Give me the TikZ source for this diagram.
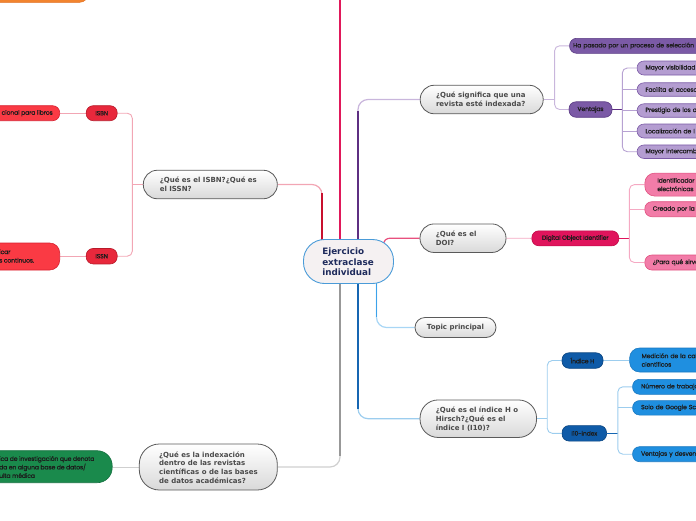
\documentclass[tikz,border=0pt]{standalone}
\usepackage{fontspec}
\newfontfamily\qf{DejaVu Sans}
\newfontfamily\pf{Poppins}[FakeBold=0.5,LetterSpace=-2]
\usetikzlibrary{calc,backgrounds}
\definecolor{qborder}{HTML}{5A5A5A}
\definecolor{qgray}{HTML}{D9D9D9}
\definecolor{qtxt}{HTML}{4A4A4A}
\definecolor{ntxt}{HTML}{1C1C1C}
\definecolor{cfill}{HTML}{F5F1F2}
\definecolor{cborder}{HTML}{4A9BD8}
\definecolor{ctxt}{HTML}{1E2B5C}
\definecolor{redD}{HTML}{C8102E}
\definecolor{redL}{HTML}{F2A6B4}
\definecolor{isbnF}{HTML}{E8283C}
\definecolor{isbnB}{HTML}{B81A2A}
\definecolor{redF}{HTML}{FA3A44}
\definecolor{redB}{HTML}{D82030}
\definecolor{crim}{HTML}{E0185A}
\definecolor{purD}{HTML}{5E2F82}
\definecolor{purL}{HTML}{C9B6DC}
\definecolor{purF}{HTML}{7B5AA6}
\definecolor{purB}{HTML}{5A3A84}
\definecolor{lavF}{HTML}{B49DD1}
\definecolor{lavB}{HTML}{7B5AA6}
\definecolor{lavL}{HTML}{B7A2D2}
\definecolor{pinkD}{HTML}{E8507E}
\definecolor{pinkL}{HTML}{F5A9C3}
\definecolor{doiF}{HTML}{E0145C}
\definecolor{doiB}{HTML}{C00A48}
\definecolor{pinkF}{HTML}{F27CA8}
\definecolor{pinkB}{HTML}{E0507F}
\definecolor{grayD}{HTML}{989898}
\definecolor{grayL}{HTML}{CFCFCF}
\definecolor{greenF}{HTML}{1A8A4C}
\definecolor{greenB}{HTML}{157040}
\definecolor{blueD}{HTML}{1666B2}
\definecolor{blueL}{HTML}{9CCDEE}
\definecolor{navyF}{HTML}{0F5BA8}
\definecolor{navyB}{HTML}{0A4480}
\definecolor{bluF}{HTML}{1F8FE0}
\definecolor{bluB}{HTML}{1A78C0}
\definecolor{skyD}{HTML}{3CA2EA}
\definecolor{skyL}{HTML}{A8D6F5}
\definecolor{orF}{HTML}{F2842E}
\definecolor{orB}{HTML}{E06A1A}
\tikzset{
  qbox/.style={draw=qborder, line width=0.8pt, top color=white, bottom color=qgray, inner sep=0pt},
  qtext/.style={font=\qf\bfseries\fontsize{7}{9}\selectfont, text=qtxt, align=left, inner sep=0pt, anchor=west},
  ctext/.style={font=\qf\bfseries\fontsize{8.8}{10.7}\selectfont, text=ctxt, align=left, inner sep=0pt, anchor=west},
  pill/.style={rounded corners=7pt, line width=0.6pt, inner sep=0pt, font=\pf\fontsize{6.1}{8.5}\selectfont, text=ntxt},
  lpill/.style={pill, anchor=west, align=left, text width=80pt},
  ptext/.style={font=\pf\fontsize{6.1}{8.5}\selectfont, text=ntxt, align=left, inner sep=0pt},
  sub/.style={rounded corners=5pt, line width=0.9pt},
  mainl/.style={rounded corners=10pt, line width=1.2pt},
  maind/.style={line width=1.7pt},
}
\begin{document}
\begin{tikzpicture}[x=1pt,y=-1pt]
\useasboundingbox (0,0) rectangle (696,520);

% central
\node[draw=cborder, fill=cfill, line width=0.9pt, rounded corners=21pt, minimum width=90pt, minimum height=44pt, inner sep=0pt] (cen) at (348.5,261.5) {};
\node[ctext] (cent) at ($(cen.west)+(19,0.5)$) {Ejercicio\\extraclase\\individual};

% top-left orange (partially visible)
\node[draw=orB, fill=orF, rounded corners=8pt, minimum width=120pt, minimum height=24pt, anchor=south east, inner sep=0pt] (orange) at (88,2.5) {};
\coordinate (upend) at (340,-10);

% question nodes
\node[qbox, rounded corners=14pt, minimum width=134pt, minimum height=28.5pt] (isbnq) at (210.3,184.5) {};
\node[qtext] (isbnqt) at ($(isbnq.west)+(16.7,0)$) {¿Qué es el ISBN?¿Qué es\\el ISSN?};

\node[qbox, rounded corners=20pt, minimum width=138pt, minimum height=46pt] (indexq) at (208.3,467) {};
\node[qtext, font=\qf\bfseries\fontsize{7}{8.7}\selectfont] (indexqt) at ($(indexq.west)+(20,0.5)$) {¿Qué es la indexación\\dentro de las revistas\\científicas o de las bases\\de datos académicas?};

\node[qbox, rounded corners=14pt, minimum width=123pt, minimum height=28.5pt] (signif) at (481.7,99.5) {};
\node[qtext] (signift) at ($(signif.west)+(16,0)$) {¿Qué significa que una\\revista esté indexada?};

\node[qbox, rounded corners=14pt, minimum width=86pt, minimum height=28.5pt] (doi) at (463,238.2) {};
\node[qtext] (doit) at ($(doi.west)+(16,0)$) {¿Qué es el\\DOI?};

\node[qbox, rounded corners=10pt, minimum width=81pt, minimum height=20pt, font=\qf\bfseries\fontsize{7}{9}\selectfont, text=qtxt] (topic) at (455.5,327.5) {Topic principal};

\node[qbox, rounded corners=18pt, minimum width=116.5pt, minimum height=37.5pt] (ihq) at (478.3,418.7) {};
\node[qtext] (ihqt) at ($(ihq.west)+(16,0)$) {¿Qué es el índice H o\\Hirsch?¿Qué es el\\índice I (I10)?};

% left red nodes
\node[pill, fill=isbnF, draw=isbnB, minimum width=31pt, minimum height=15pt] (isbn) at (101.7,113.2) {ISBN};
\node[pill, fill=isbnF, draw=isbnB, minimum width=31pt, minimum height=15.5pt] (issn) at (101.7,256.2) {ISSN};
\node[pill, fill=redF, draw=redB, minimum width=90pt, minimum height=15pt, anchor=east] (red1) at (60,113.2) {};
\node[ptext, anchor=east] (red1t) at ($(red1.east)+(-7,0)$) {cional para libros};
\node[pill, rounded corners=10pt, fill=redF, draw=redB, minimum width=90pt, minimum height=27pt, anchor=east] (red2) at (60,256.5) {};
\node[ptext, anchor=west] (red2t) at (-1,256) {icar\\s continuos.};

% green
\node[pill, rounded corners=15pt, fill=greenF, draw=greenB, minimum width=150pt, minimum height=32pt, anchor=east] (green) at (112.5,466.7) {};
\node[ptext, anchor=west] (greent) at (-1,467) {ica de investigación que denota\\da en alguna base de datos/\\ulta médica};

% purple branch
\node[lpill, fill=purF, draw=purB, minimum height=15pt, inner xsep=3.5pt, text width=150pt] (hapasado) at (569.3,45.8) {Ha pasado por un proceso de selección};
\node[pill, fill=purF, draw=purB, minimum width=43pt, minimum height=15.5pt] (ventajas) at (590.5,109.5) {Ventajas};
\node[lpill, fill=lavF, draw=lavB, minimum height=14pt, inner xsep=8.5pt] (lav1) at (636.7,68) {Mayor visibilidad};
\node[lpill, fill=lavF, draw=lavB, minimum height=13.5pt, inner xsep=8.5pt] (lav2) at (636.7,89.5) {Facilita el acceso};
\node[lpill, fill=lavF, draw=lavB, minimum height=13.5pt, inner xsep=8.5pt] (lav3) at (636.7,110.5) {Prestigio de los a};
\node[lpill, fill=lavF, draw=lavB, minimum height=14pt, inner xsep=8.5pt] (lav4) at (636.7,131) {Localización de l};
\node[lpill, fill=lavF, draw=lavB, minimum height=13.5pt, inner xsep=8.5pt] (lav5) at (636.7,151.7) {Mayor intercamb};

% DOI branch
\node[pill, fill=doiF, draw=doiB, minimum width=87pt, minimum height=15pt] (dig) at (575.3,238.3) {Digital Object Identifier};
\node[lpill, rounded corners=10pt, fill=pinkF, draw=pinkB, minimum height=23pt, inner xsep=12.5pt] (ident) at (644.5,184.6) {Identificador\\electrónicas};
\node[lpill, fill=pinkF, draw=pinkB, minimum height=15pt, inner xsep=8pt] (creado) at (644.5,209.2) {Creado por la C};
\node[lpill, fill=pinkF, draw=pinkB, minimum height=15pt, inner xsep=8pt] (para) at (644.5,262.5) {¿Para qué sirve};

% index branch
\node[pill, fill=navyF, draw=navyB, minimum width=41pt, minimum height=15.5pt] (indh) at (582.5,360.5) {Índice H};
\node[pill, fill=navyF, draw=navyB, minimum width=44.5pt, minimum height=15.5pt] (i10) at (584.3,433.3) {I10-index};
\node[lpill, rounded corners=10pt, fill=bluF, draw=bluB, minimum height=24pt, inner xsep=12pt] (med) at (629.3,360) {Medición de la cal\\científicos};
\node[lpill, fill=bluF, draw=bluB, minimum height=15pt, inner xsep=8.5pt] (num) at (632.3,386.8) {Número de trabajo};
\node[lpill, fill=bluF, draw=bluB, minimum height=14.5pt, inner xsep=8.5pt] (solo) at (632.3,407.8) {Solo de Google Sc};
\node[lpill, fill=bluF, draw=bluB, minimum height=15pt, inner xsep=8.5pt] (vent) at (632.3,454.2) {Ventajas y desven};

% junctions
\coordinate (j1) at ($(isbnq.west)+(-10.6,0)$);
\coordinate (j2) at ($(signif.east)+(11,0)$);
\coordinate (j3) at ($(ventajas.east)+(10,0)$);
\coordinate (j4) at ($(dig.east)+(10.3,0)$);
\coordinate (j5) at ($(ihq.east)+(10.3,0)$);
\coordinate (j6) at ($(i10.east)+(11,0)$);

\begin{scope}[on background layer]
  % main connectors
  \draw[crim, line width=1.5pt] ($(cen.north)+(-8.5,3)$) -- (upend);
  \draw[mainl, redL] ($(cen.north)+(-26.5,3)$) |- (isbnq.east);
  \draw[maind, redD] ($(cen.north)+(-26.5,3)$) -- ($(cen.north)+(-26.5,-46)$);
  \draw[mainl, purL] ($(cen.north)+(9.5,3)$) |- (signif.west);
  \draw[maind, purD] ($(cen.north)+(9.5,3)$) -- ($(cen.north)+(9.5,-128)$);
  \draw[pinkD, line width=1.2pt] ($(cen.north)+(35,4)$) .. controls ($(cen.north)+(37,-1.8)$) and ($(doi.west)+(-30,0)$) .. ($(doi.west)+(-24,0)$) -- (doi.west);
  \draw[mainl, grayL] ($(cen.south)+(-8.5,-3)$) |- (indexq.east);
  \draw[maind, grayD] ($(cen.south)+(-8.5,-3)$) -- ($(cen.south)+(-8.5,172)$);
  \draw[mainl, blueL] ($(cen.south)+(9.5,-3)$) |- (ihq.west);
  \draw[maind, blueD] ($(cen.south)+(9.5,-3)$) -- ($(cen.south)+(9.5,125)$);
  \draw[mainl, skyL] ($(cen.south)+(28,-3)$) |- (topic.west);
  \draw[maind, skyD] ($(cen.south)+(28,-3)$) -- ($(cen.south)+(28,33)$);

  % ISBN branch
  \draw[sub, redL] (isbnq.west) -- (j1);
  \draw[sub, redL] (isbn.east) -| (j1) |- (issn.east);
  \draw[sub, redL] (isbn.west) -- (red1.east);
  \draw[sub, redL] (issn.west) -- (issn.west -| red2.east);
  \draw[sub, grayL] (indexq.west) -- (indexq.west -| green.east);

  % purple branch
  \draw[sub, purL] (signif.east) -- (j2);
  \draw[sub, purL] (hapasado.west) -| (j2) |- (ventajas.west);
  \draw[sub, purD, line width=1.3pt] (ventajas.east) -- (j3);
  \draw[sub, lavL] (lav1.west) -| (j3) |- (lav5.west);
  \draw[sub, lavL] (lav2.west) -- (lav2.west -| j3);
  \draw[sub, lavL] (lav3.west) -- (lav3.west -| j3);
  \draw[sub, lavL] (lav4.west) -- (lav4.west -| j3);

  % DOI branch
  \draw[sub, pinkL] (doi.east) -- (dig.west);
  \draw[sub, doiF, line width=1.2pt] (dig.east) -- (j4);
  \draw[sub, pinkL] (ident.west) -| (j4) |- (para.west);
  \draw[sub, pinkL] (creado.west) -- (creado.west -| j4);

  % index branch
  \draw[sub, blueL] (ihq.east) -- (j5);
  \draw[sub, blueL] (indh.west) -| (j5) |- (i10.west);
  \draw[sub, blueL] (indh.east) -- (indh.east -| med.west);
  \draw[sub, blueD, line width=1.2pt] (i10.east) -- (j6);
  \draw[sub, blueL] (num.west) -| (j6) |- (vent.west);
  \draw[sub, blueL] (solo.west) -- (solo.west -| j6);
\end{scope}
\end{tikzpicture}
\end{document}
